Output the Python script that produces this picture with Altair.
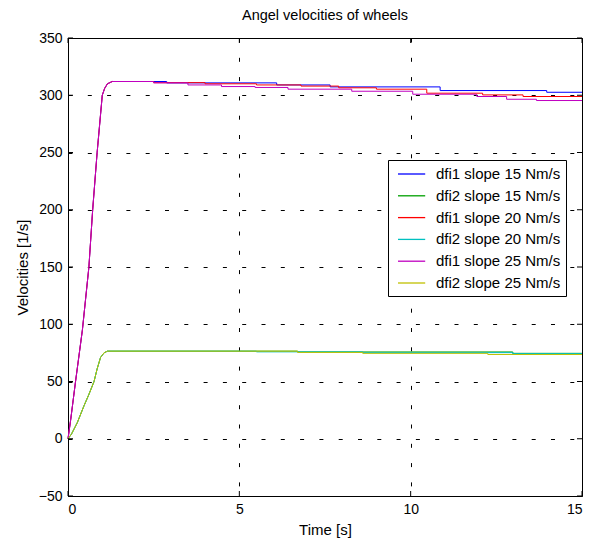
import altair as alt
import pandas as pd

# ---------------- data ----------------
time_ticks = [0, 5, 10, 15]
vel_ticks = [-50, 0, 50, 100, 150, 200, 250, 300, 350]

series_names = [
    "dfi1 slope 15 Nm/s",
    "dfi2 slope 15 Nm/s",
    "dfi1 slope 20 Nm/s",
    "dfi2 slope 20 Nm/s",
    "dfi1 slope 25 Nm/s",
    "dfi2 slope 25 Nm/s",
]
series_colors = ["#0000ff", "#00a000", "#ff0000", "#00c0c0", "#c000c0", "#c0c000"]

# start-up ramp (shared by the three dfi1 runs, and by the three dfi2 runs)
dfi1_rise_t = [0, 0.08, 0.22, 0.42, 0.61, 0.72, 0.85, 1.0, 1.07, 1.15, 1.29]
dfi1_rise_v = [0, 17, 50, 95, 150, 200, 250, 300, 306, 310, 312]
dfi2_rise_t = [0, 0.1, 0.27, 0.47, 0.6, 0.76, 0.85, 0.95, 1.05, 1.15]
dfi2_rise_v = [0, 4, 14, 29, 38, 50, 61, 71, 75, 76.5]

# staircase after the ramp: time of each drop and the new level
dfi1_15_step_t = [2.88, 6.09, 7.65, 10.86, 13.97]
dfi1_15_step_v = [310.8, 309.0, 307.3, 304.1, 302.6]
dfi1_20_step_t = [2.5, 4.0, 5.5, 6.8, 7.9, 9.0, 10.47, 12.1, 13.28]
dfi1_20_step_v = [311.0, 310.0, 309.0, 308.0, 306.5, 305.3, 301.8, 300.3, 298.9]
dfi1_25_step_t = [2.5, 3.5, 4.48, 5.46, 6.42, 8.28, 10.06, 11.93, 12.8, 13.67]
dfi1_25_step_v = [310.8, 309.0, 307.6, 306.8, 305.3, 303.5, 300.9, 298.9, 296.5, 295.4]
dfi2_15_step_t = [6.7, 12.98]
dfi2_15_step_v = [75.8, 74.6]
dfi2_20_step_t = [5.5, 8.6, 12.98]
dfi2_20_step_v = [75.9, 75.2, 74.4]
dfi2_25_step_t = [6.7, 8.6, 12.25]
dfi2_25_step_v = [75.4, 74.6, 73.6]

t_end = 15


def build(name, rise_t, rise_v, step_t, step_v):
    rows = []
    for t, v in zip(rise_t, rise_v):
        rows.append((t, v))
    prev = rise_v[-1]
    for t, v in zip(step_t, step_v):
        rows.append((t, prev))
        rows.append((t, v))
        prev = v
    rows.append((t_end, prev))
    return [{"series": name, "t": t, "v": v, "k": i} for i, (t, v) in enumerate(rows)]


records = []
records += build(series_names[0], dfi1_rise_t, dfi1_rise_v, dfi1_15_step_t, dfi1_15_step_v)
records += build(series_names[1], dfi2_rise_t, dfi2_rise_v, dfi2_15_step_t, dfi2_15_step_v)
records += build(series_names[2], dfi1_rise_t, dfi1_rise_v, dfi1_20_step_t, dfi1_20_step_v)
records += build(series_names[3], dfi2_rise_t, dfi2_rise_v, dfi2_20_step_t, dfi2_20_step_v)
records += build(series_names[4], dfi1_rise_t, dfi1_rise_v, dfi1_25_step_t, dfi1_25_step_v)
records += build(series_names[5], dfi2_rise_t, dfi2_rise_v, dfi2_25_step_t, dfi2_25_step_v)
df = pd.DataFrame(records)

xticks_df = pd.DataFrame({"t": time_ticks})
yticks_df = pd.DataFrame({"v": vel_ticks})

W, H = 514, 458
FONT = "Liberation Sans"

xscale = alt.Scale(domain=[0, 15], nice=False)
yscale = alt.Scale(domain=[-50, 350], nice=False)

lines = alt.Chart(df).mark_line(strokeWidth=1).encode(
    x=alt.X("t:Q", scale=xscale,
            axis=alt.Axis(values=time_ticks, title="Time [s]", format="d")),
    y=alt.Y("v:Q", scale=yscale,
            axis=alt.Axis(values=vel_ticks, title="Velocities [1/s]", format="d")),
    color=alt.Color(
        "series:N",
        scale=alt.Scale(domain=series_names, range=series_colors),
        legend=alt.Legend(
            title=None,
            orient="none",
            legendX=320,
            legendY=122,
            fillColor="white",
            strokeColor="black",
            padding=5,
            symbolType="M-0.5,0H2.9",
            symbolSize=256,
            symbolStrokeWidth=1.3,
            symbolOpacity=1,
            labelOffset=25,
            labelFontSize=15,
            labelFont=FONT,
            labelColor="black",
            rowPadding=4.8,
            cornerRadius=0,
        ),
    ),
    order=alt.Order("k:Q"),
)

tick_left = alt.Chart(yticks_df).mark_rule(color="black", strokeWidth=1).encode(
    y=alt.Y("v:Q", scale=yscale), x=alt.value(0), x2=alt.value(5))
tick_right = alt.Chart(yticks_df).mark_rule(color="black", strokeWidth=1).encode(
    y=alt.Y("v:Q", scale=yscale), x=alt.value(W - 5), x2=alt.value(W))
tick_bottom = alt.Chart(xticks_df).mark_rule(color="black", strokeWidth=1).encode(
    x=alt.X("t:Q", scale=xscale), y=alt.value(H - 5), y2=alt.value(H))
tick_top = alt.Chart(xticks_df).mark_rule(color="black", strokeWidth=1).encode(
    x=alt.X("t:Q", scale=xscale), y=alt.value(0), y2=alt.value(5))

chart = alt.layer(lines, tick_left, tick_right, tick_bottom, tick_top).properties(
    width=W,
    height=H,
    background="white",
    title=alt.TitleParams(
        "Angel velocities of wheels",
        fontSize=14.5,
        fontWeight="normal",
        font=FONT,
        color="black",
        offset=8,
        anchor="middle",
    ),
    autosize=alt.AutoSizeParams(type="none"),
    padding={"left": 68, "top": 38, "right": 15, "bottom": 48},
).configure_view(
    stroke="black", strokeWidth=1
).configure_axis(
    domainColor="black",
    domainWidth=1,
    tickSize=0,
    labelColor="black",
    labelFont=FONT,
    labelFontSize=14,
    labelPadding=6,
    titleFont=FONT,
    titleFontSize=15,
    titleFontWeight="normal",
    titleColor="black",
    grid=True,
    gridColor="black",
    gridDash=[4, 15.3],
    gridWidth=1,
    gridOpacity=1,
).configure_axisX(
    titlePadding=6,
).configure_axisY(
    titlePadding=8,
)

chart.save("out.html", embed_options={"renderer": "svg", "actions": False})
